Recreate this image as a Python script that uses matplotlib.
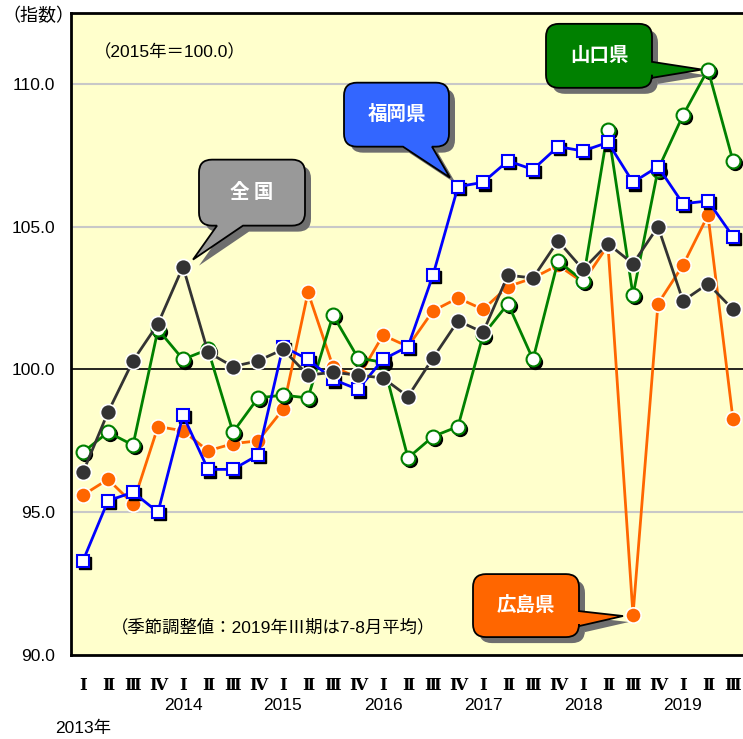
import matplotlib
matplotlib.use("Agg")
import matplotlib.pyplot as plt
import matplotlib.transforms as mtransforms
from matplotlib.path import Path
from matplotlib.patches import PathPatch
import numpy as np

# ---- data -------------------------------------------------------------
quarters = ["Ⅰ", "Ⅱ", "Ⅲ", "Ⅳ"] * 6 + ["Ⅰ", "Ⅱ", "Ⅲ"]
years = ["2013年", "2014", "2015", "2016", "2017", "2018", "2019"]

national = [96.4, 98.5, 100.3, 101.6, 103.6, 100.6, 100.1, 100.3, 100.7, 99.8,
            99.9, 99.8, 99.7, 99.05, 100.4, 101.7, 101.3, 103.3, 103.2, 104.5,
            103.5, 104.4, 103.7, 105.0, 102.4, 103.0, 102.1]
fukuoka = [93.3, 95.4, 95.7, 95.0, 98.4, 96.5, 96.5, 97.0, 100.8, 100.35,
           99.65, 99.3, 100.35, 100.8, 103.3, 106.4, 106.55, 107.3, 107.0, 107.8,
           107.65, 107.95, 106.55, 107.1, 105.8, 105.9, 104.65]
yamaguchi = [97.1, 97.8, 97.35, 101.4, 100.35, 100.7, 97.8, 99.0, 99.1, 99.0,
             101.9, 100.4, 100.25, 96.9, 97.65, 98.0, 101.2, 102.3, 100.35, 103.8,
             103.1, 108.4, 102.6, 107.0, 108.9, 110.5, 107.3]
hiroshima = [95.6, 96.15, 95.3, 98.0, 97.85, 97.15, 97.4, 97.5, 98.6, 102.7,
             100.1, 99.7, 101.2, 100.8, 102.05, 102.5, 102.1, 102.9, 103.2, 103.65,
             103.05, 104.35, 91.4, 102.3, 103.65, 105.4, 98.25]

y_ticks = [90.0, 95.0, 100.0, 105.0, 110.0]

# ---- figure -----------------------------------------------------------
W, H = 743, 739
fig = plt.figure(figsize=(W / 100, H / 100), dpi=100)
ax = fig.add_axes([70.5 / W, (H - 655) / H, 675 / W, 642 / H])
ax.set_facecolor("#FFFFCC")

n = len(national)
x = np.arange(n)
ax.set_xlim(-0.5, n - 0.5)
ax.set_ylim(90, 112.48)

SANS = ["Liberation Sans", "Noto Sans CJK JP"]
CJK = ["Noto Sans CJK JP", "DejaVu Sans"]

# grid / reference lines
for v in y_ticks[1:]:
    if v == 100.0:
        ax.axhline(v, color="black", lw=1.2, zorder=1)
    else:
        ax.axhline(v, color="#C8C8C8", lw=1.5, zorder=1)

for side in ["top", "left", "bottom"]:
    ax.spines[side].set_linewidth(2)
    ax.spines[side].set_color("black")
ax.spines["right"].set_visible(False)

ax.set_yticks(y_ticks)
ax.set_yticklabels([f"{v:.1f}" for v in y_ticks], family=SANS, fontsize=12.5)
ax.tick_params(axis="y", length=0, pad=11)
ax.set_xticks([])

# ---- series -----------------------------------------------------------
shadow = mtransforms.offset_copy(ax.transData, fig=fig, x=2.2, y=-2.2, units="dots")

ax.plot(x, hiroshima, color="#FF6600", lw=2, marker="o", ms=11,
        mfc="#FF6600", mec="white", mew=1.2, zorder=3, clip_on=False)

ax.plot(x, yamaguchi, ls="none", marker="o", ms=10, mfc="black", mec="black",
        transform=shadow, zorder=4, clip_on=False)
ax.plot(x, yamaguchi, color="#008000", lw=2, marker="o", ms=10,
        mfc="white", mec="#008000", mew=1.5, zorder=5, clip_on=False)

ax.plot(x, fukuoka, ls="none", marker="s", ms=9, mfc="black", mec="black",
        transform=shadow, zorder=6, clip_on=False)
ax.plot(x, fukuoka, color="#0000FF", lw=2, marker="s", ms=9,
        mfc="white", mec="#0000FF", mew=1.5, zorder=7, clip_on=False)

ax.plot(x, national, color="#333333", lw=2, marker="o", ms=11.5,
        mfc="#333333", mec="white", mew=1.2, zorder=8, clip_on=False)

# ---- callouts ---------------------------------------------------------
fig.canvas.draw()
td = ax.transData


def callout_path(L, R, B, T, r, side, b0, b1, tip):
    verts, codes = [], []

    def mv(p):
        verts.append(p); codes.append(Path.MOVETO)

    def ln(p):
        verts.append(p); codes.append(Path.LINETO)

    def cv(c, p):
        verts.extend([c, p]); codes.extend([Path.CURVE3, Path.CURVE3])

    mv((L + r, B))
    if side == "bottom":
        ln((L + b0, B)); ln(tip); ln((L + b1, B))
    ln((R - r, B)); cv((R, B), (R, B + r))
    if side == "right":
        ln((R, T - b1)); ln(tip); ln((R, T - b0))
    ln((R, T - r)); cv((R, T), (R - r, T))
    ln((L + r, T)); cv((L, T), (L, T - r))
    ln((L, B + r)); cv((L, B), (L + r, B))
    verts.append((L + r, B)); codes.append(Path.CLOSEPOLY)
    return Path(verts, codes)


def callout(text, center, size, color, series, idx, tip_off, side, b0, b1):
    cx, cy = td.transform(center)
    w, h = size
    L, R, B, T = cx - w / 2, cx + w / 2, cy - h / 2, cy + h / 2
    px, py = td.transform((idx, series[idx]))
    tip = (px + tip_off[0], py + tip_off[1])
    path = callout_path(L, R, B, T, 13, side, b0, b1, tip)
    sh = Path(path.vertices + np.array([6, -6]), path.codes)
    ax.add_patch(PathPatch(sh, transform=mtransforms.IdentityTransform(),
                           fc="#6E6E6E", ec="none", zorder=2.4, clip_on=False))
    ax.add_patch(PathPatch(path, transform=mtransforms.IdentityTransform(),
                           fc=color, ec="black", lw=1.3, zorder=2.5, clip_on=False))
    ax.text(*center, text, ha="center", va="center", color="white",
            fontsize=14, fontweight="bold", family=CJK, zorder=2.6)


callout("全 国", (6.76, 106.19), (106, 66), "#999999", national, 4,
        (10, 7), "bottom", 18, 44)
callout("福岡県", (12.54, 108.92), (105, 64), "#3366FF", fukuoka, 15,
        (-8, 9), "bottom", 59, 88)
callout("山口県", (20.64, 110.98), (106, 64), "#008000", yamaguchi, 25,
        (-6, 0), "right", 38, 54)
callout("広島県", (17.72, 91.73), (106, 63), "#FF6600", hiroshima, 22,
        (-10, -1), "right", 37, 52)

# ---- notes ------------------------------------------------------------
fig.text(94 / W, 1 - 52 / H, "（2015年＝100.0）", ha="left", va="center",
         family=SANS, fontsize=12.5)
fig.text(111 / W, 1 - 627 / H, "（季節調整値：2019年Ⅲ期は7-8月平均）",
         ha="left", va="center", family=SANS, fontsize=12.5)
fig.text(38 / W, 1 - 16 / H, "（指数）", ha="center", va="center",
         family=CJK, fontsize=13)

# ---- category axis ----------------------------------------------------
xt = mtransforms.blended_transform_factory(ax.transData, fig.transFigure)
for i, q in enumerate(quarters):
    ax.text(i, 1 - 686 / H, q, transform=xt, ha="center", va="center",
            family=["DejaVu Serif", "Noto Sans CJK JP"], fontweight="bold",
            fontsize=12, clip_on=False)
ax.text(0, 1 - 728 / H, years[0], transform=xt, ha="center", va="center",
        family=SANS, fontsize=12.5)
for k, yr in enumerate(years[1:]):
    ax.text(4 + 4 * k, 1 - 706 / H, yr, transform=xt, ha="center",
            va="center", family=SANS, fontsize=12.5)

fig.savefig("out.png", dpi=100)
